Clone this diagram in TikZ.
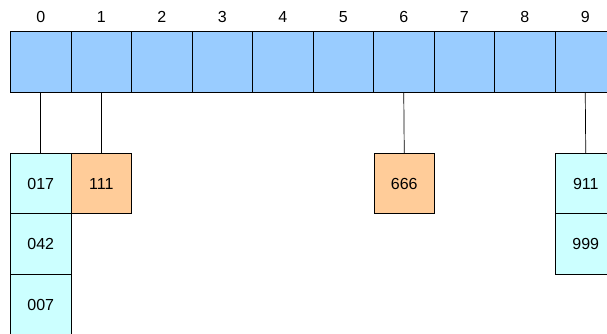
\documentclass[tikz,border=0pt]{standalone}
\usepackage{fontspec}
\setmainfont{Liberation Sans}
\usetikzlibrary{positioning}
\definecolor{slotblue}{HTML}{99CCFF}
\definecolor{chaincyan}{HTML}{CCFFFF}
\definecolor{chainorange}{HTML}{FFCC99}
\newcommand{\cellw}{60.5}

\begin{document}
\begin{tikzpicture}[
      x=1pt, y=-1pt,
      every node/.style={inner sep=0pt, outer sep=0pt, font=\fontsize{16}{18}\selectfont},
      slot/.style={draw, line width=0.8pt, fill=slotblue, minimum size=60.5pt},
      entry/.style={draw, line width=0.8pt, fill=chaincyan, minimum size=60.5pt},
      hot/.style={draw, line width=0.8pt, fill=chainorange, minimum size=60.5pt},
      link/.style={line width=0.7pt}
    ]
      \useasboundingbox (0,0) rectangle (607,333);

      % Draw the table slots and their indices
      \foreach \i in {0,...,9} {
        \node[slot] (c\i) at ({10.5+\cellw*\i+\cellw/2}, 62) {};
        \node (l\i) at ({10.5+\cellw*\i+\cellw/2}, 17) {\i};
      }

      % Draw the chains hanging below the slots
      \node[entry] (a0) at (40.75, 183.5) {017};
      \node[entry, below=0pt of a0] (b0) {042};
      \node[entry, below=0pt of b0] (d0) {007};
      \node[hot] (a1) at (101.25, 183.5) {111};
      \node[hot] (a6) at (404.25, 183.5) {666};
      \node[entry] (a9) at (585.75, 183.5) {911};
      \node[entry, below=0pt of a9] (b9) {999};

      \draw[link] (c0.south) -- (a0.north);
      \draw[link] (c1.south) -- (a1.north);
      \draw[link] (c6.south) -- (a6.north);
      \draw[link] (c9.south) -- (a9.north);
    \end{tikzpicture}
\end{document}
